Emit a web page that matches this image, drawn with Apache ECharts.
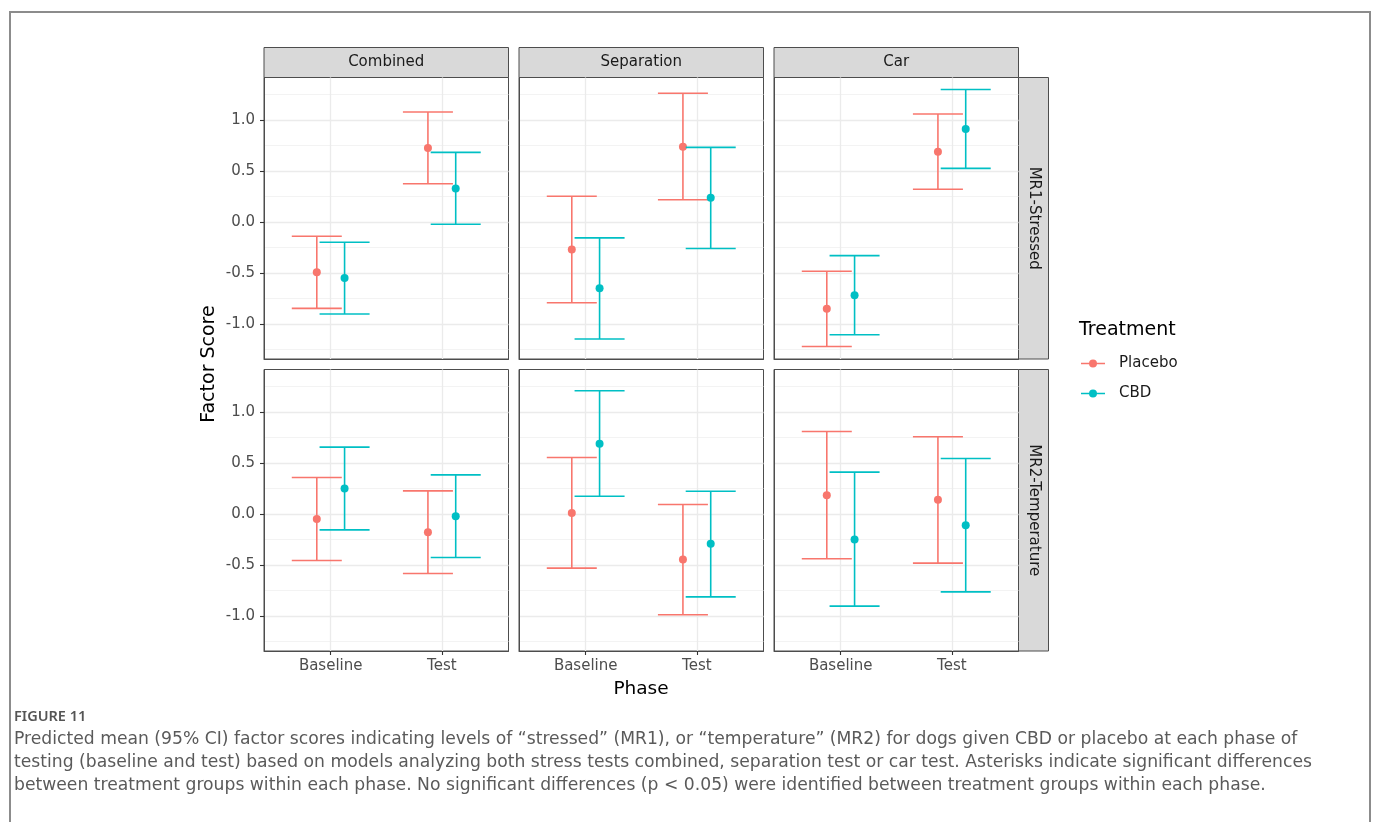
<!DOCTYPE html>
<html>
<head>
<meta charset="utf-8">
<script src="https://cdn.jsdelivr.net/npm/echarts@6/dist/echarts.min.js"></script>
<style>
html,body{margin:0;padding:0;background:#fff;}
#chart{width:1378px;height:822px;}
</style>
</head>
<body>
<div id="chart"></div>
<script>
// ---------- data ----------
const phases = ['Baseline', 'Test'];
const tests = ['Combined', 'Separation', 'Car'];
const factors = ['MR1-Stressed', 'MR2-Temperature'];
const treatments = ['Placebo', 'CBD'];
const yTicks = [-1.0, -0.5, 0.0, 0.5, 1.0];
const yMinorTicks = [-1.25, -0.75, -0.25, 0.25, 0.75, 1.25];

// order: Combined-Baseline, Combined-Test, Separation-Baseline, Separation-Test, Car-Baseline, Car-Test
const placeboMR1Mean  = [-0.495, 0.723, -0.272, 0.737, -0.852, 0.688];
const placeboMR1Lower = [-0.849, 0.373, -0.793, 0.216, -1.222, 0.320];
const placeboMR1Upper = [-0.141, 1.077, 0.251, 1.260, -0.485, 1.057];
const cbdMR1Mean  = [-0.550, 0.327, -0.652, 0.236, -0.721, 0.910];
const cbdMR1Lower = [-0.904, -0.024, -1.149, -0.262, -1.107, 0.524];
const cbdMR1Upper = [-0.200, 0.681, -0.157, 0.730, -0.331, 1.297];
const placeboMR2Mean  = [-0.052, -0.180, 0.007, -0.448, 0.183, 0.137];
const placeboMR2Lower = [-0.458, -0.585, -0.532, -0.990, -0.441, -0.483];
const placeboMR2Upper = [0.356, 0.225, 0.552, 0.091, 0.807, 0.755];
const cbdMR2Mean  = [0.248, -0.023, 0.686, -0.294, -0.252, -0.111];
const cbdMR2Lower = [-0.157, -0.428, 0.173, -0.814, -0.905, -0.765];
const cbdMR2Upper = [0.654, 0.382, 1.206, 0.222, 0.409, 0.542];

const captionLabel = 'FIGURE 11';
const captionLines = [
  'Predicted mean (95% CI) factor scores indicating levels of \u201cstressed\u201d (MR1), or \u201ctemperature\u201d (MR2) for dogs given CBD or placebo at each phase of',
  'testing (baseline and test) based on models analyzing both stress tests combined, separation test or car test. Asterisks indicate significant differences',
  'between treatment groups within each phase. No significant differences (p < 0.05) were identified between treatment groups within each phase.'
];

// ---------- layout / style ----------
const COLORS = {Placebo: '#F8766D', CBD: '#00BFC4'};
const DODGE = 0.125, CAP_HALF = 0.225;
const colLeft = [264, 519, 774], colW = 244.5;
const rowTop = [77.5, 369.5], rowH = 281.5;
const Y_MIN = -1.345, Y_MAX = 1.415;
const FONT = '"DejaVu Sans", sans-serif';
const BORDER = '#4d4d4d';

const dataSets = {
  'MR1-Stressed': {Placebo: [placeboMR1Mean, placeboMR1Lower, placeboMR1Upper], CBD: [cbdMR1Mean, cbdMR1Lower, cbdMR1Upper]},
  'MR2-Temperature': {Placebo: [placeboMR2Mean, placeboMR2Lower, placeboMR2Upper], CBD: [cbdMR2Mean, cbdMR2Lower, cbdMR2Upper]}
};

function renderItem(params, api) {
  const x = api.value(0), m = api.value(1), lo = api.value(2), hi = api.value(3);
  const pm = api.coord([x, m]), pl = api.coord([x, lo]), ph = api.coord([x, hi]);
  const half = api.size([CAP_HALF, 0])[0];
  const color = api.visual('color');
  const ls = {stroke: color, lineWidth: 1.6};
  return {type: 'group', children: [
    {type: 'line', shape: {x1: pl[0], y1: pl[1], x2: ph[0], y2: ph[1]}, style: ls},
    {type: 'line', shape: {x1: ph[0] - half, y1: ph[1], x2: ph[0] + half, y2: ph[1]}, style: ls},
    {type: 'line', shape: {x1: pl[0] - half, y1: pl[1], x2: pl[0] + half, y2: pl[1]}, style: ls},
    {type: 'circle', shape: {cx: pm[0], cy: pm[1], r: 4}, style: {fill: color}}
  ]};
}

const grids = [], xAxes = [], yAxes = [], yMinorAxes = [], series = [], graphics = [];

// outer frame
graphics.push({type: 'rect', shape: {x: 10, y: 12, width: 1360, height: 840},
  style: {fill: null, stroke: '#8c8c8c', lineWidth: 2}, z: 100});

factors.forEach((fac, r) => {
  tests.forEach((test, c) => {
    const g = r * 3 + c;
    grids.push({left: colLeft[c], top: rowTop[r], width: colW, height: rowH,
      show: true, borderColor: BORDER, borderWidth: 1, backgroundColor: 'transparent'});
    xAxes.push({gridIndex: g, type: 'value', min: 0.4, max: 2.6, position: 'bottom',
      axisLine: {show: true, onZero: false, lineStyle: {color: BORDER, width: 1}},
      axisTick: {show: r === 1, customValues: [1, 2], length: 4, lineStyle: {color: '#333', width: 1.1}},
      axisLabel: {show: r === 1, customValues: [1, 2], formatter: v => phases[Math.round(v) - 1],
        color: '#4d4d4d', fontFamily: FONT, fontSize: 15, margin: 8},
      splitLine: {show: true, lineStyle: {color: '#ebebeb', width: 1.3}}
    });
    yAxes.push({gridIndex: g, type: 'value', min: Y_MIN, max: Y_MAX, position: 'left',
      axisLine: {show: true, onZero: false, lineStyle: {color: BORDER, width: 1}},
      axisTick: {show: c === 0, customValues: yTicks, length: 4, lineStyle: {color: '#333', width: 1.1}},
      axisLabel: {show: c === 0, customValues: yTicks, formatter: v => v.toFixed(1),
        color: '#4d4d4d', fontFamily: FONT, fontSize: 15, margin: 9},
      splitLine: {show: true, lineStyle: {color: '#ebebeb', width: 1.3}}
    });
    yMinorAxes.push({gridIndex: g, type: 'value', min: Y_MIN, max: Y_MAX, position: 'left',
      axisLine: {show: false, onZero: false},
      axisTick: {show: false, customValues: yMinorTicks},
      axisLabel: {show: false, customValues: yMinorTicks},
      splitLine: {show: true, lineStyle: {color: '#f0f0f0', width: 0.8}}
    });
    treatments.forEach((tr, k) => {
      const [mean, lower, upper] = dataSets[fac][tr];
      const off = k === 0 ? -DODGE : DODGE;
      const data = phases.map((p, i) => [i + 1 + off, mean[c * 2 + i], lower[c * 2 + i], upper[c * 2 + i]]);
      series.push({type: 'custom', name: tr, xAxisIndex: g, yAxisIndex: g,
        itemStyle: {color: COLORS[tr]}, renderItem: renderItem,
        encode: {x: 0, y: [1, 2, 3]}, data: data, z: 5, silent: true, clip: false});
    });
    // top strip
    if (r === 0) {
      graphics.push({type: 'rect', shape: {x: colLeft[c], y: 47.5, width: colW, height: 30},
        style: {fill: '#d9d9d9', stroke: BORDER, lineWidth: 1}});
      graphics.push({type: 'text', x: colLeft[c] + colW / 2, y: 62.5,
        style: {text: test, align: 'center', verticalAlign: 'middle', fill: '#1a1a1a', font: '15px ' + FONT}});
    }
  });
  // right strip
  graphics.push({type: 'rect', shape: {x: 1018.5, y: rowTop[r], width: 30, height: rowH},
    style: {fill: '#d9d9d9', stroke: BORDER, lineWidth: 1}});
  graphics.push({type: 'text', x: 1033.5, y: rowTop[r] + rowH / 2, rotation: -Math.PI / 2,
    style: {text: fac, align: 'center', verticalAlign: 'middle', fill: '#1a1a1a', font: '15px ' + FONT}});
});

// axis titles
graphics.push({type: 'text', x: 209, y: 364, rotation: Math.PI / 2,
  style: {text: 'Factor Score', align: 'center', verticalAlign: 'middle', fill: '#000', font: '19px ' + FONT}});
graphics.push({type: 'text', x: 641, y: 689,
  style: {text: 'Phase', align: 'center', verticalAlign: 'middle', fill: '#000', font: '18.5px ' + FONT}});
// legend title
graphics.push({type: 'text', x: 1079, y: 330,
  style: {text: 'Treatment', align: 'left', verticalAlign: 'middle', fill: '#000', font: '19px ' + FONT}});
// caption
graphics.push({type: 'text', x: 14, y: 717,
  style: {text: captionLabel, align: 'left', verticalAlign: 'middle', fill: '#555', font: '600 14.5px "Noto Sans", sans-serif'}});
captionLines.forEach((line, i) => {
  graphics.push({type: 'text', x: 14, y: 740 + i * 22.7,
    style: {text: line, align: 'left', verticalAlign: 'middle', fill: '#5a5a5a', font: '17.2px "DejaVu Sans", sans-serif'}});
});

const legendIcon = 'path://M0,4.25 L24,4.25 L24,5.75 L0,5.75 Z M16,5 A4,4 0 1 1 8,5 A4,4 0 1 1 16,5 Z';

const option = {
  animation: false,
  backgroundColor: '#fff',
  grid: grids,
  xAxis: xAxes,
  yAxis: yAxes.concat(yMinorAxes),
  legend: {
    data: treatments, left: 1081, top: 356, orient: 'vertical', padding: 0,
    icon: legendIcon, itemWidth: 24, itemHeight: 8, itemGap: 15,
    textStyle: {fontFamily: FONT, fontSize: 15, color: '#1a1a1a', padding: [0, 0, 0, 9]},
    selectedMode: false
  },
  series: series,
  graphic: graphics
};

const chart = echarts.init(document.getElementById('chart'), null, {renderer: 'canvas'});
chart.setOption(option);
</script>
</body>
</html>
